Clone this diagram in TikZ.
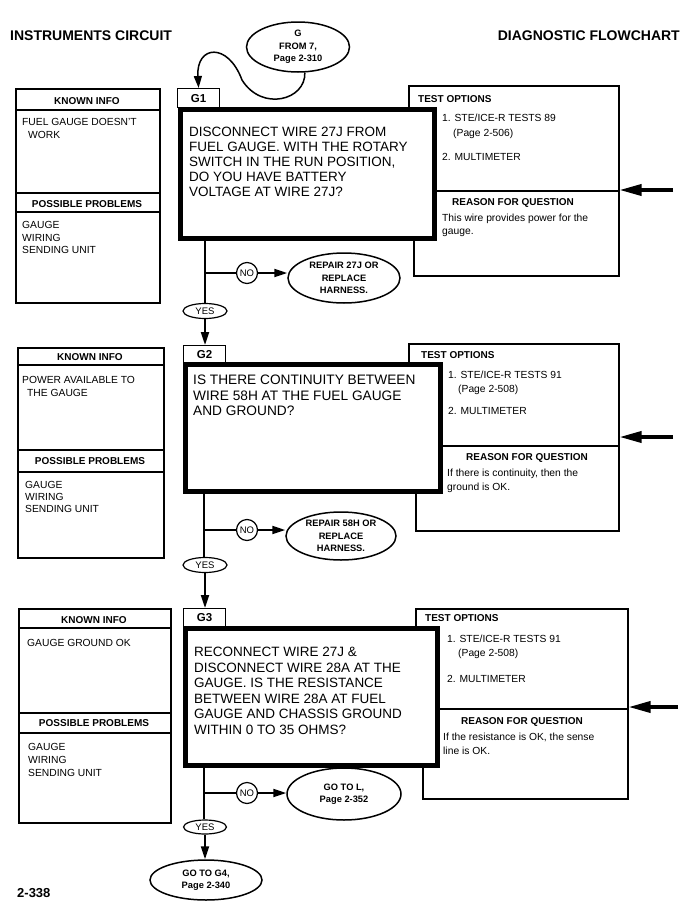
\documentclass[tikz,border=0pt]{standalone}
\usepackage{fontspec}
\setmainfont{Liberation Sans}
\usetikzlibrary{positioning,arrows.meta,shapes.geometric}

\begin{document}
\begin{tikzpicture}[x=1pt, y=-1pt, >={Triangle[length=13pt,width=8pt]},
    heading/.style={inner sep=0pt, font=\fontsize{14}{16}\selectfont\bfseries},
    panel/.style={draw, line width=1.5pt, anchor=north west, inner sep=0pt, fill=white},
    rule/.style={line width=1.5pt},
    tab/.style={draw, line width=1.2pt, anchor=north west, inner sep=0pt, minimum width=42pt, font=\fontsize{11.5}{13}\selectfont\bfseries},
    question/.style={draw, line width=4.5pt, anchor=north west, inner sep=0pt, fill=white},
    ask/.style={anchor=north west, align=left, inner sep=0pt, font=\fontsize{13.5}{15}\selectfont},
    hdr/.style={inner sep=0pt, font=\fontsize{10}{12}\selectfont\bfseries},
    txt/.style={anchor=base west, inner sep=0pt, font=\fontsize{10.3}{12}\selectfont},
    exit/.style={ellipse, draw, line width=1.5pt, align=center, inner sep=0pt, font=\fontsize{9.3}{12.5}\selectfont\bfseries},
    answer/.style={ellipse, draw, line width=1.2pt, inner sep=0pt, font=\fontsize{9.5}{11}\selectfont},
    flow/.style={line width=2pt},
    cue/.style={line width=3.5pt, -{Triangle[length=22pt,width=11pt]}}]

    \useasboundingbox (0,0) rectangle (687,910);

    \node[heading, anchor=base west] (circuit) at (10,40) {INSTRUMENTS CIRCUIT};
    \node[heading, anchor=base east] (chart) at (680,40) {DIAGNOSTIC FLOWCHART};
    \node[exit, minimum width=103pt, minimum height=50pt] (gfrom) at (298,47) {G\\FROM 7,\\Page 2-310};

    % G1
    \node[panel, minimum width=144pt, minimum height=214pt] (g1known) at (15,88) {};
    \draw[rule] (15,110) -- (159,110) (15,193) -- (159,193) (15,212) -- (159,212);
    \node[hdr] (g1kh) at (87,101) {KNOWN INFO};
    \node[txt] (g1k1) at (22,125.7) {FUEL GAUGE DOESN'T};
    \node[txt] (g1k2) at (28,138.7) {WORK};
    \node[hdr] (g1ph) at (87,204) {POSSIBLE PROBLEMS};
    \node[txt] (g1p1) at (22,228.7) {GAUGE};
    \node[txt] (g1p2) at (22,241.7) {WIRING};
    \node[txt] (g1p3) at (22,253.7) {SENDING UNIT};

    \node[panel, minimum width=210pt, minimum height=105pt] (g1test) at (408,85) {};
    \node[panel, minimum width=205pt, minimum height=85pt] (g1why) at (413,190) {};
    \node[hdr, anchor=base west] (g1th) at (418,102.6) {TEST OPTIONS};
    \node[txt] (g1t1) at (442,121.7) {1. STE/ICE-R TESTS 89};
    \node[txt] (g1t2) at (453,136.7) {(Page 2-506)};
    \node[txt] (g1t3) at (442,160.7) {2. MULTIMETER};
    \node[hdr] (g1wh) at (513,203) {REASON FOR QUESTION};
    \node[txt] (g1w1) at (442,221.7) {This wire provides power for the};
    \node[txt] (g1w2) at (442,234.7) {gauge.};

    \node[question, minimum width=254pt, minimum height=129pt] (g1box) at (178,107) {};
    \node[ask] (g1ask) at (189,127.2) {DISCONNECT WIRE 27J FROM\\FUEL GAUGE. WITH THE ROTARY\\SWITCH IN THE RUN POSITION,\\DO YOU HAVE BATTERY\\VOLTAGE AT WIRE 27J?};
    \node[tab, minimum height=19pt] (g1tab) at (177,88) {G1};

    \coordinate (g1split) at (205,273);
    \node[answer, minimum size=21pt] (g1no) at (247,273) {NO};
    \node[exit, minimum width=112pt, minimum height=50pt] (g1fix) at (344,278) {REPAIR 27J OR\\REPLACE\\HARNESS.};
    \node[answer, minimum width=44pt, minimum height=15pt] (g1yes) at (205,311) {YES};

    % G2
    \node[panel, minimum width=146pt, minimum height=210pt] (g2known) at (17,347) {};
    \draw[rule] (17,365) -- (163,365) (17,450) -- (163,450) (17,472) -- (163,472);
    \node[hdr] (g2kh) at (90,357) {KNOWN INFO};
    \node[txt] (g2k1) at (22,383.7) {POWER AVAILABLE TO};
    \node[txt] (g2k2) at (27,396.7) {THE GAUGE};
    \node[hdr] (g2ph) at (90,461) {POSSIBLE PROBLEMS};
    \node[txt] (g2p1) at (25,488.7) {GAUGE};
    \node[txt] (g2p2) at (25,500.7) {WIRING};
    \node[txt] (g2p3) at (25,512.7) {SENDING UNIT};

    \node[panel, minimum width=210pt, minimum height=102pt] (g2test) at (408,343) {};
    \node[panel, minimum width=203pt, minimum height=85pt] (g2why) at (415,445) {};
    \node[hdr, anchor=base west] (g2th) at (421,358.6) {TEST OPTIONS};
    \node[txt] (g2t1) at (448,378.7) {1. STE/ICE-R TESTS 91};
    \node[txt] (g2t2) at (458,392.7) {(Page 2-508)};
    \node[txt] (g2t3) at (448,414.7) {2. MULTIMETER};
    \node[hdr] (g2wh) at (527,458) {REASON FOR QUESTION};
    \node[txt] (g2w1) at (447,476.7) {If there is continuity, then the};
    \node[txt] (g2w2) at (447,490) {ground is OK.};

    \node[question, minimum width=255pt, minimum height=127pt] (g2box) at (183,362) {};
    \node[ask, font=\fontsize{13.7}{15.5}\selectfont] (g2ask) at (193,375) {IS THERE CONTINUITY BETWEEN\\WIRE 58H AT THE FUEL GAUGE\\AND GROUND?};
    \node[tab, minimum height=17pt] (g2tab) at (183,345) {G2};

    \coordinate (g2split) at (204,530);
    \node[answer, minimum size=21pt] (g2no) at (247,530) {NO};
    \node[exit, minimum width=110pt, minimum height=48pt] (g2fix) at (341,536) {REPAIR 58H OR\\REPLACE\\HARNESS.};
    \node[answer, minimum width=44pt, minimum height=15pt] (g2yes) at (205,565) {YES};

    % G3
    \node[panel, minimum width=152pt, minimum height=214pt] (g3known) at (18,608) {};
    \draw[rule] (18,628) -- (170,628) (18,713) -- (170,713) (18,733) -- (170,733);
    \node[hdr] (g3kh) at (94,620) {KNOWN INFO};
    \node[txt] (g3k1) at (27,646.7) {GAUGE GROUND OK};
    \node[hdr] (g3ph) at (94,723.5) {POSSIBLE PROBLEMS};
    \node[txt] (g3p1) at (28,750.7) {GAUGE};
    \node[txt] (g3p2) at (28,763.7) {WIRING};
    \node[txt] (g3p3) at (28,776.7) {SENDING UNIT};

    \node[panel, minimum width=212pt, minimum height=100pt] (g3test) at (415,608) {};
    \node[panel, minimum width=205pt, minimum height=90pt] (g3why) at (422,708) {};
    \node[hdr, anchor=base west] (g3th) at (425,621.6) {TEST OPTIONS};
    \node[txt] (g3t1) at (447,642.7) {1. STE/ICE-R TESTS 91};
    \node[txt] (g3t2) at (458,656.7) {(Page 2-508)};
    \node[txt] (g3t3) at (447,682.7) {2. MULTIMETER};
    \node[hdr] (g3wh) at (522,722) {REASON FOR QUESTION};
    \node[txt] (g3w1) at (443,740.7) {If the resistance is OK, the sense};
    \node[txt] (g3w2) at (443,754) {line is OK.};

    \node[question, minimum width=252pt, minimum height=137pt] (g3box) at (183,626) {};
    \node[ask, font=\fontsize{13.5}{15.5}\selectfont] (g3ask) at (194,647.2) {RECONNECT WIRE 27J \&\\DISCONNECT WIRE 28A AT THE\\GAUGE. IS THE RESISTANCE\\BETWEEN WIRE 28A AT FUEL\\GAUGE AND CHASSIS GROUND\\WITHIN 0 TO 35 OHMS?};
    \node[tab, minimum height=18pt] (g3tab) at (183,608) {G3};

    \coordinate (g3split) at (204,793);
    \node[answer, minimum size=21pt] (g3no) at (247,793) {NO};
    \node[exit, minimum width=114pt, minimum height=52pt] (g3out) at (344,794) {GO TO L,\\Page 2-352};
    \node[answer, minimum width=43pt, minimum height=14pt] (g3yes) at (205,827) {YES};
    \node[exit, minimum width=112pt, minimum height=40pt] (g4) at (206,880) {GO TO G4,\\Page 2-340};

    \node[heading, font=\fontsize{13}{15}\selectfont\bfseries, anchor=base west] (pageno) at (17,897) {2-338};

    \draw[line width=1.5pt, -{Triangle[length=12pt,width=8pt]}] (gfrom.-75) .. controls (306,100) and (262,112) .. (242,80) .. controls (228,42) and (196,45) .. (g1tab.north);

    \draw[flow] (g1box.south -| g1split) -- (g1yes.north);
    \draw[flow] (g1split) -- (g1no.west);
    \draw[flow, ->] (g1no.east) -- (g1no.east -| g1fix.west);
    \draw[flow, ->] (g1yes.south) -- (g1yes.south |- g2tab.north);

    \draw[flow] (g2box.south -| g2split) -- (g2yes.north -| g2split);
    \draw[flow] (g2split) -- (g2no.west);
    \draw[flow, ->] (g2no.east) -- (g2no.east -| g2fix.west);
    \draw[flow, ->] (g2yes.south) -- (g2yes.south |- g3tab.north);

    \draw[flow] (g3box.south -| g3split) -- (g3yes.north -| g3split);
    \draw[flow] (g3split) -- (g3no.west);
    \draw[flow, ->] (g3no.east) -- (g3no.east -| g3out.west);
    \draw[flow, ->] (g3yes.south) -- (g3yes.south |- g4.north);

    \coordinate (g1cue) at (673,190);
    \coordinate (g2cue) at (673,437);
    \coordinate (g3cue) at (678,707);
    \draw[cue] (g1cue) -- (g1cue -| g1test.east);
    \draw[cue] (g2cue) -- (g2cue -| g2test.east);
    \draw[cue] (g3cue) -- (g3cue -| g3test.east);
\end{tikzpicture}
\end{document}
